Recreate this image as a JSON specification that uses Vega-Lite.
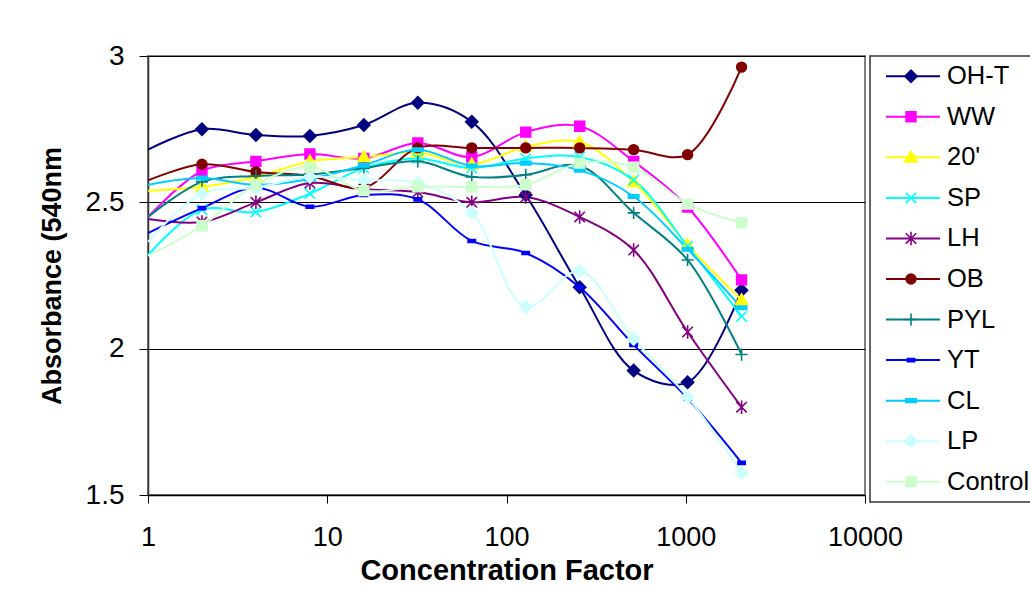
{
  "$schema": "https://vega.github.io/schema/vega-lite/v6.json",
  "autosize": "none",
  "padding": {"left": 148, "top": 56, "right": 882, "bottom": 534},
  "background": "white",
  "bounds": "flush",
  "spacing": 5,
  "config": {
    "font": "Liberation Sans",
    "axis": {"labelFont": "Liberation Sans", "titleFont": "Liberation Sans", "labelColor": "black", "titleColor": "black"}
  },
  "datasets": {
    "series": [
      {"series": "OH-T"}, {"series": "WW"}, {"series": "20'"}, {"series": "SP"}, {"series": "LH"}, {"series": "OB"},
      {"series": "PYL"}, {"series": "YT"}, {"series": "CL"}, {"series": "LP"}, {"series": "Control"}
    ],
    "absorbance": [
      {"series": "OH-T", "factor": 1, "absorbance": 2.68},
      {"series": "OH-T", "factor": 2, "absorbance": 2.75},
      {"series": "OH-T", "factor": 4, "absorbance": 2.73},
      {"series": "OH-T", "factor": 8, "absorbance": 2.727},
      {"series": "OH-T", "factor": 16, "absorbance": 2.764},
      {"series": "OH-T", "factor": 32, "absorbance": 2.84},
      {"series": "OH-T", "factor": 64, "absorbance": 2.775},
      {"series": "OH-T", "factor": 128, "absorbance": 2.525},
      {"series": "OH-T", "factor": 256, "absorbance": 2.21},
      {"series": "OH-T", "factor": 512, "absorbance": 1.925},
      {"series": "OH-T", "factor": 1024, "absorbance": 1.885},
      {"series": "OH-T", "factor": 2048, "absorbance": 2.2},
      {"series": "WW", "factor": 1, "absorbance": 2.45},
      {"series": "WW", "factor": 2, "absorbance": 2.607},
      {"series": "WW", "factor": 4, "absorbance": 2.64},
      {"series": "WW", "factor": 8, "absorbance": 2.665},
      {"series": "WW", "factor": 16, "absorbance": 2.65},
      {"series": "WW", "factor": 32, "absorbance": 2.703},
      {"series": "WW", "factor": 64, "absorbance": 2.655},
      {"series": "WW", "factor": 128, "absorbance": 2.74},
      {"series": "WW", "factor": 256, "absorbance": 2.76},
      {"series": "WW", "factor": 512, "absorbance": 2.64},
      {"series": "WW", "factor": 1024, "absorbance": 2.484},
      {"series": "WW", "factor": 2048, "absorbance": 2.235},
      {"series": "20'", "factor": 1, "absorbance": 2.54},
      {"series": "20'", "factor": 2, "absorbance": 2.553},
      {"series": "20'", "factor": 4, "absorbance": 2.587},
      {"series": "20'", "factor": 8, "absorbance": 2.64},
      {"series": "20'", "factor": 16, "absorbance": 2.655},
      {"series": "20'", "factor": 32, "absorbance": 2.67},
      {"series": "20'", "factor": 64, "absorbance": 2.63},
      {"series": "20'", "factor": 128, "absorbance": 2.69},
      {"series": "20'", "factor": 256, "absorbance": 2.706},
      {"series": "20'", "factor": 512, "absorbance": 2.57},
      {"series": "20'", "factor": 1024, "absorbance": 2.354},
      {"series": "20'", "factor": 2048, "absorbance": 2.166},
      {"series": "SP", "factor": 1, "absorbance": 2.32},
      {"series": "SP", "factor": 2, "absorbance": 2.475},
      {"series": "SP", "factor": 4, "absorbance": 2.467},
      {"series": "SP", "factor": 8, "absorbance": 2.53},
      {"series": "SP", "factor": 16, "absorbance": 2.617},
      {"series": "SP", "factor": 32, "absorbance": 2.65},
      {"series": "SP", "factor": 64, "absorbance": 2.617},
      {"series": "SP", "factor": 128, "absorbance": 2.65},
      {"series": "SP", "factor": 256, "absorbance": 2.655},
      {"series": "SP", "factor": 512, "absorbance": 2.576},
      {"series": "SP", "factor": 1024, "absorbance": 2.35},
      {"series": "SP", "factor": 2048, "absorbance": 2.11},
      {"series": "LH", "factor": 1, "absorbance": 2.443},
      {"series": "LH", "factor": 2, "absorbance": 2.433},
      {"series": "LH", "factor": 4, "absorbance": 2.5},
      {"series": "LH", "factor": 8, "absorbance": 2.566},
      {"series": "LH", "factor": 16, "absorbance": 2.545},
      {"series": "LH", "factor": 32, "absorbance": 2.535},
      {"series": "LH", "factor": 64, "absorbance": 2.5},
      {"series": "LH", "factor": 128, "absorbance": 2.518},
      {"series": "LH", "factor": 256, "absorbance": 2.45},
      {"series": "LH", "factor": 512, "absorbance": 2.337},
      {"series": "LH", "factor": 1024, "absorbance": 2.057},
      {"series": "LH", "factor": 2048, "absorbance": 1.8},
      {"series": "OB", "factor": 1, "absorbance": 2.575},
      {"series": "OB", "factor": 2, "absorbance": 2.63},
      {"series": "OB", "factor": 4, "absorbance": 2.604},
      {"series": "OB", "factor": 8, "absorbance": 2.59},
      {"series": "OB", "factor": 16, "absorbance": 2.55},
      {"series": "OB", "factor": 32, "absorbance": 2.686},
      {"series": "OB", "factor": 64, "absorbance": 2.686},
      {"series": "OB", "factor": 128, "absorbance": 2.686},
      {"series": "OB", "factor": 256, "absorbance": 2.686},
      {"series": "OB", "factor": 512, "absorbance": 2.68},
      {"series": "OB", "factor": 1024, "absorbance": 2.663},
      {"series": "OB", "factor": 2048, "absorbance": 2.962},
      {"series": "PYL", "factor": 1, "absorbance": 2.45},
      {"series": "PYL", "factor": 2, "absorbance": 2.57},
      {"series": "PYL", "factor": 4, "absorbance": 2.59},
      {"series": "PYL", "factor": 8, "absorbance": 2.595},
      {"series": "PYL", "factor": 16, "absorbance": 2.617},
      {"series": "PYL", "factor": 32, "absorbance": 2.64},
      {"series": "PYL", "factor": 64, "absorbance": 2.587},
      {"series": "PYL", "factor": 128, "absorbance": 2.594},
      {"series": "PYL", "factor": 256, "absorbance": 2.625},
      {"series": "PYL", "factor": 512, "absorbance": 2.464},
      {"series": "PYL", "factor": 1024, "absorbance": 2.303},
      {"series": "PYL", "factor": 2048, "absorbance": 1.98},
      {"series": "YT", "factor": 1, "absorbance": 2.395},
      {"series": "YT", "factor": 2, "absorbance": 2.48},
      {"series": "YT", "factor": 4, "absorbance": 2.55},
      {"series": "YT", "factor": 8, "absorbance": 2.485},
      {"series": "YT", "factor": 16, "absorbance": 2.525},
      {"series": "YT", "factor": 32, "absorbance": 2.51},
      {"series": "YT", "factor": 64, "absorbance": 2.368},
      {"series": "YT", "factor": 128, "absorbance": 2.327},
      {"series": "YT", "factor": 256, "absorbance": 2.21},
      {"series": "YT", "factor": 512, "absorbance": 2.013},
      {"series": "YT", "factor": 1024, "absorbance": 1.83},
      {"series": "YT", "factor": 2048, "absorbance": 1.61},
      {"series": "CL", "factor": 1, "absorbance": 2.56},
      {"series": "CL", "factor": 2, "absorbance": 2.583},
      {"series": "CL", "factor": 4, "absorbance": 2.56},
      {"series": "CL", "factor": 8, "absorbance": 2.58},
      {"series": "CL", "factor": 16, "absorbance": 2.627},
      {"series": "CL", "factor": 32, "absorbance": 2.68},
      {"series": "CL", "factor": 64, "absorbance": 2.624},
      {"series": "CL", "factor": 128, "absorbance": 2.634},
      {"series": "CL", "factor": 256, "absorbance": 2.61},
      {"series": "CL", "factor": 512, "absorbance": 2.52},
      {"series": "CL", "factor": 1024, "absorbance": 2.34},
      {"series": "CL", "factor": 2048, "absorbance": 2.14},
      {"series": "LP", "factor": 1, "absorbance": 2.365},
      {"series": "LP", "factor": 2, "absorbance": 2.53},
      {"series": "LP", "factor": 4, "absorbance": 2.55},
      {"series": "LP", "factor": 8, "absorbance": 2.587},
      {"series": "LP", "factor": 16, "absorbance": 2.576},
      {"series": "LP", "factor": 32, "absorbance": 2.566},
      {"series": "LP", "factor": 64, "absorbance": 2.464},
      {"series": "LP", "factor": 128, "absorbance": 2.143},
      {"series": "LP", "factor": 256, "absorbance": 2.265},
      {"series": "LP", "factor": 512, "absorbance": 2.033},
      {"series": "LP", "factor": 1024, "absorbance": 1.835},
      {"series": "LP", "factor": 2048, "absorbance": 1.575},
      {"series": "Control", "factor": 1, "absorbance": 2.317},
      {"series": "Control", "factor": 2, "absorbance": 2.42},
      {"series": "Control", "factor": 4, "absorbance": 2.56},
      {"series": "Control", "factor": 8, "absorbance": 2.62},
      {"series": "Control", "factor": 16, "absorbance": 2.54},
      {"series": "Control", "factor": 32, "absorbance": 2.553},
      {"series": "Control", "factor": 64, "absorbance": 2.553},
      {"series": "Control", "factor": 128, "absorbance": 2.56},
      {"series": "Control", "factor": 256, "absorbance": 2.634},
      {"series": "Control", "factor": 512, "absorbance": 2.62},
      {"series": "Control", "factor": 1024, "absorbance": 2.494},
      {"series": "Control", "factor": 2048, "absorbance": 2.43}
    ]
  },
  "hconcat": [
    {
      "width": 717,
      "height": 439,
      "view": {"stroke": "#808080", "strokeWidth": 2, "fill": "white"},
      "data": {"name": "absorbance"},
      "encoding": {
        "x": {
          "field": "factor", "type": "quantitative",
          "scale": {"type": "log", "domain": [1, 10000], "nice": false},
          "axis": {
            "title": "Concentration Factor", "values": [1, 10, 100, 1000, 10000], "format": "d",
            "grid": false, "domainColor": "black", "domainWidth": 1.5, "tickColor": "black", "tickSize": 8,
            "labelFontSize": 27, "labelPadding": 21, "labelFlush": false,
            "titleFontSize": 29, "titleFontWeight": "bold", "titleY": 75, "titleBaseline": "middle"
          }
        },
        "y": {
          "field": "absorbance", "type": "quantitative",
          "scale": {"domain": [1.5, 3], "nice": false, "zero": false},
          "axis": {
            "title": "Absorbance (540nm", "values": [1.5, 2, 2.5, 3], "format": "~g",
            "grid": true, "gridColor": "black", "gridWidth": 1,
            "domainColor": "#333333", "domainWidth": 1.5, "tickColor": "black", "tickSize": 9,
            "labelFontSize": 28, "labelPadding": 15,
            "titleFontSize": 27, "titleFontWeight": "bold", "titleX": -96, "titleY": 219.5,
            "titleAngle": -90, "titleBaseline": "middle", "titleAlign": "center"
          }
        }
      },
      "layer": [
        {
          "mark": {"type": "line", "interpolate": "catmull-rom", "strokeWidth": 2},
          "encoding": {
            "stroke": {
              "field": "series", "type": "nominal", "legend": null,
              "scale": {
                "domain": ["OH-T", "WW", "20'", "SP", "LH", "OB", "PYL", "YT", "CL", "LP", "Control"],
                "range": ["#000080", "#FF00FF", "#FFFF00", "#00FFFF", "#800080", "#800000", "#008080", "#0000FF", "#00CCFF", "#CCFFFF", "#CCFFCC"]
              }
            },
            "detail": {"field": "series"}
          }
        },
        {
          "transform": [{"filter": "datum.factor >= 2"}],
          "mark": {"type": "point", "filled": false, "opacity": 1, "strokeWidth": 1.6, "size": 150},
          "encoding": {
            "stroke": {"field": "series", "type": "nominal", "legend": null},
            "fill": {
              "field": "series", "type": "nominal", "legend": null,
              "scale": {
                "domain": ["OH-T", "WW", "20'", "SP", "LH", "OB", "PYL", "YT", "CL", "LP", "Control"],
                "range": ["#000080", "#FF00FF", "#FFFF00", "transparent", "transparent", "#800000", "transparent", "#0000FF", "#00CCFF", "#CCFFFF", "#CCFFCC"]
              }
            },
            "shape": {
              "field": "series", "type": "nominal", "legend": null,
              "scale": {
                "domain": ["OH-T", "WW", "20'", "SP", "LH", "OB", "PYL", "YT", "CL", "LP", "Control"],
                "range": [
                  "M-1,0L0,-1L1,0L0,1Z",
                  "M-0.8,-0.8H0.8V0.8H-0.8Z",
                  "M0,-1L1,0.75H-1Z",
                  "M-0.85,-0.85L0.85,0.85M-0.85,0.85L0.85,-0.85",
                  "M-0.85,-0.85L0.85,0.85M-0.85,0.85L0.85,-0.85M0,-1.1V1.1",
                  "M-0.8,0A0.8,0.8,0,1,0,0.8,0A0.8,0.8,0,1,0,-0.8,0Z",
                  "M-1,0H1M0,-1V1",
                  "M-0.6,-0.25H0.6V0.25H-0.6Z",
                  "M-0.85,-0.28H0.85V0.28H-0.85Z",
                  "M-1,0L0,-1L1,0L0,1Z",
                  "M-0.8,-0.8H0.8V0.8H-0.8Z"
                ]
              }
            }
          }
        }
      ]
    },
    {
      "width": 175,
      "height": 446,
      "view": {"stroke": "#333333", "strokeWidth": 1.5, "fill": "white"},
      "data": {"name": "series"},
      "encoding": {
        "y": {
          "field": "series", "type": "nominal", "sort": null,
          "scale": {"type": "point", "padding": 0.5},
          "axis": null
        }
      },
      "layer": [
        {
          "mark": {"type": "rule", "strokeWidth": 2},
          "encoding": {
            "x": {"datum": 16, "type": "quantitative", "scale": {"domain": [0, 175], "nice": false, "zero": true}, "axis": null},
            "x2": {"datum": 70},
            "stroke": {"field": "series", "type": "nominal", "legend": null}
          }
        },
        {
          "mark": {"type": "point", "filled": false, "opacity": 1, "strokeWidth": 1.6, "size": 150},
          "encoding": {
            "x": {"datum": 41, "type": "quantitative"},
            "stroke": {"field": "series", "type": "nominal", "legend": null},
            "fill": {"field": "series", "type": "nominal", "legend": null},
            "shape": {"field": "series", "type": "nominal", "legend": null}
          }
        },
        {
          "mark": {"type": "text", "align": "left", "baseline": "middle", "fontSize": 25.5, "font": "Liberation Sans", "color": "black"},
          "encoding": {
            "x": {"datum": 77, "type": "quantitative"},
            "text": {"field": "series"}
          }
        }
      ]
    }
  ]
}
